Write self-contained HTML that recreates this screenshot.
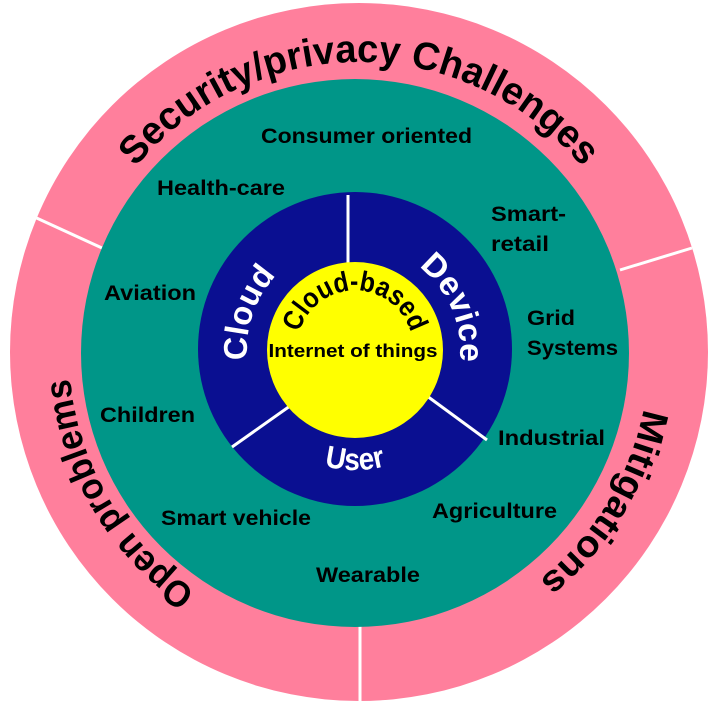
<!DOCTYPE html>
<html><head><meta charset="utf-8"><style>
html,body{margin:0;padding:0;background:#fff;}
svg{display:block;}
text{font-family:"Liberation Sans",sans-serif;font-weight:bold;}
</style></head><body>
<svg width="712" height="708" viewBox="0 0 712 708" xmlns="http://www.w3.org/2000/svg">
<defs>
<path id="pSec" d="M 359 352 m -290 0 a 290 290 0 1 1 580 0" />
<path id="pOpen2" d="M 197 592 A 290 290 0 0 1 70 377"/>
<path id="pMit" d="M 644 407 A 290 290 0 0 1 538 581"/>
<path id="pCloud" d="M 249 371 A 108 108 0 0 1 284 268"/>
<path id="pDevice" d="M 415 264 A 105 105 0 0 1 459 366"/>
<path id="pUser" d="M 295 454 A 120 120 0 0 0 415 454"/>
<path id="pCB" d="M 300 330 A 58 58 0 0 1 410 330"/>
</defs>
<circle cx="359" cy="352" r="349" fill="#ff7f9c"/>
<line x1="30" y1="215" x2="102" y2="248" stroke="#fff" stroke-width="3"/>
<line x1="620" y1="270" x2="692" y2="248" stroke="#fff" stroke-width="3"/>
<line x1="360" y1="625" x2="360" y2="706" stroke="#fff" stroke-width="3"/>
<circle cx="355" cy="353" r="274" fill="#009688"/>
<circle cx="355" cy="349" r="157" fill="#0a0f91"/>
<line x1="348" y1="195" x2="348" y2="264" stroke="#fff" stroke-width="3"/>
<line x1="232" y1="447" x2="290" y2="406" stroke="#fff" stroke-width="3"/>
<line x1="427" y1="396" x2="487" y2="440" stroke="#fff" stroke-width="3"/>
<circle cx="355" cy="350" r="88" fill="#ffff00"/>

<text font-size="39" fill="#000"><textPath href="#pSec" startOffset="50%" text-anchor="middle" textLength="510" lengthAdjust="spacingAndGlyphs">Security/privacy Challenges</textPath></text>
<text font-size="37" fill="#000"><textPath href="#pOpen2" startOffset="50%" text-anchor="middle" textLength="255" lengthAdjust="spacingAndGlyphs">Open problems</textPath></text>
<text font-size="37" fill="#000"><textPath href="#pMit" startOffset="50%" text-anchor="middle" textLength="205" lengthAdjust="spacingAndGlyphs">Mitigations</textPath></text>

<text font-size="33" fill="#fff"><textPath href="#pCloud" startOffset="50%" text-anchor="middle" textLength="92" lengthAdjust="spacingAndGlyphs">Cloud</textPath></text>
<text font-size="33" fill="#fff"><textPath href="#pDevice" startOffset="50%" text-anchor="middle" textLength="108" lengthAdjust="spacingAndGlyphs">Device</textPath></text>
<text font-size="31" fill="#fff"><textPath href="#pUser" startOffset="50%" text-anchor="middle" textLength="62" lengthAdjust="spacingAndGlyphs">User</textPath></text>
<text font-size="28" fill="#000"><textPath href="#pCB" startOffset="50%" text-anchor="middle" textLength="150" lengthAdjust="spacingAndGlyphs">Cloud-based</textPath></text>
<text x="353" y="357" font-size="18" text-anchor="middle" fill="#000" textLength="169" lengthAdjust="spacingAndGlyphs">Internet of things</text>

<g font-size="21" fill="#000">
<text x="261" y="143" textLength="211" lengthAdjust="spacingAndGlyphs">Consumer oriented</text>
<text x="157" y="195" textLength="128" lengthAdjust="spacingAndGlyphs">Health-care</text>
<text x="491" y="221" textLength="75" lengthAdjust="spacingAndGlyphs">Smart-</text>
<text x="491" y="251" textLength="58" lengthAdjust="spacingAndGlyphs">retail</text>
<text x="104" y="300" textLength="92" lengthAdjust="spacingAndGlyphs">Aviation</text>
<text x="527" y="325" textLength="48" lengthAdjust="spacingAndGlyphs">Grid</text>
<text x="527" y="355" textLength="91" lengthAdjust="spacingAndGlyphs">Systems</text>
<text x="100" y="422" textLength="95" lengthAdjust="spacingAndGlyphs">Children</text>
<text x="498" y="445" textLength="107" lengthAdjust="spacingAndGlyphs">Industrial</text>
<text x="432" y="518" textLength="125" lengthAdjust="spacingAndGlyphs">Agriculture</text>
<text x="161" y="525" textLength="150" lengthAdjust="spacingAndGlyphs">Smart vehicle</text>
<text x="316" y="582" textLength="104" lengthAdjust="spacingAndGlyphs">Wearable</text>
</g>
</svg>
</body></html>
